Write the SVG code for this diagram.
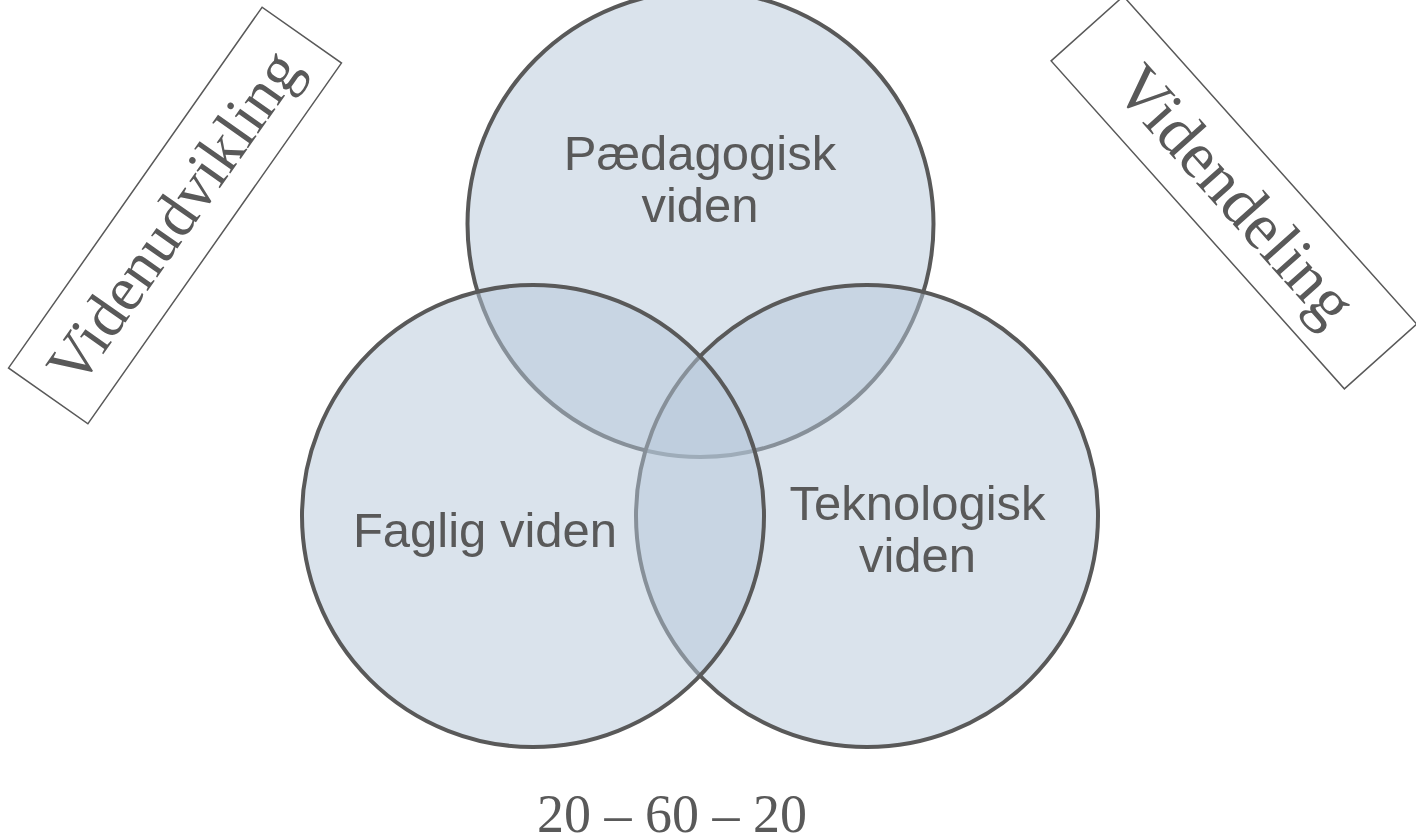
<svg xmlns="http://www.w3.org/2000/svg" width="1416" height="837" viewBox="0 0 1416 837">
<style>
.c{fill:#b5c7d9;fill-opacity:0.5;stroke:#595959;stroke-width:4}
.t{font-family:"Liberation Sans",Arial,sans-serif;font-size:49px;fill:#595959;text-anchor:middle}
.s{font-family:"Liberation Serif","Times New Roman",serif;fill:#595959;text-anchor:middle}
.b{fill:none;stroke:#595959;stroke-width:1.5}
</style>
<rect width="1416" height="837" fill="#ffffff"/>
<g id="node-paedagogisk">
<circle class="c" cx="700.5" cy="224" r="233"/>
</g>
<g id="node-teknologisk">
<circle class="c" cx="867" cy="516" r="231"/>
</g>
<g id="node-faglig">
<circle class="c" cx="533" cy="516" r="231"/>
</g>
<g id="labels">
<text class="t" x="700" y="170">Pædagogisk</text>
<text class="t" x="700" y="221.5">viden</text>
<text class="t" x="485" y="547">Faglig viden</text>
<text class="t" x="917.5" y="520">Teknologisk</text>
<text class="t" x="917.5" y="571.5">viden</text>
</g>
<g id="node-videnudvikling" transform="translate(175,215.5) rotate(-54.9)">
<rect class="b" x="-220.5" y="-48.5" width="441" height="97"/>
<text class="s" x="-2" y="21" font-size="63">Videnudvikling</text>
</g>
<g id="node-videndeling" transform="translate(1233.9,192.5) rotate(48.2)">
<rect class="b" x="-220" y="-48.5" width="440" height="97"/>
<text class="s" x="3" y="22" font-size="66">Videndeling</text>
</g>
<g id="connectors"></g>
<text id="ratio" class="s" x="672" y="832" font-size="54">20 – 60 – 20</text>
</svg>
